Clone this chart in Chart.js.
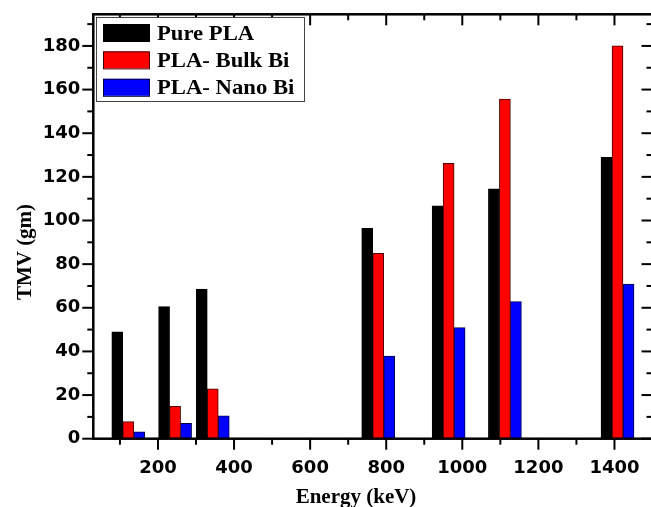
<!DOCTYPE html>
<html>
<head>
<meta charset="utf-8">
<script src="https://cdn.jsdelivr.net/npm/chart.js@4.4.1/dist/chart.umd.min.js"></script>
<style>
	html, body { margin: 0; padding: 0; background: #fff; overflow: hidden; }
	#wrap { width: 656px; height: 507px; }
</style>
</head>
<body>
<div id="wrap"><canvas id="chart" width="656" height="507"></canvas></div>
<script>
// gamma energies (keV) and TMV values (gm)
const energies = [122, 245, 344, 779, 964, 1112, 1408]
const purePLA = [49.0, 60.5, 68.6, 96.4, 106.7, 114.5, 129.0]
const bulkBi = [7.8, 14.8, 22.9, 84.9, 126.2, 155.6, 180.0]
const nanoBi = [3.1, 7.0, 10.5, 37.9, 50.9, 62.8, 70.9]

const seriesNames = ['Pure PLA', 'PLA- Bulk Bi', 'PLA- Nano Bi']
const xTicks = [200, 400, 600, 800, 1000, 1200, 1400]
const yTicks = [0, 20, 40, 60, 80, 100, 120, 140, 160, 180]

const tickFont = { family: 'DejaVu Sans', weight: 'bold', size: 18 }

function points(vals) {
	return energies.map((e, i) => ({ x: e, y: vals[i] }))
}

function minors(major, step, lo, hi) {
	const out = []
	for (let v = major[0] - step / 2; v <= hi; v += step) {
		if (v >= lo) out.push(v)
	}
	return out
}

// frame, ticks on all four sides, legend box and axis titles
const framePlugin = {
	id: 'frame',
	afterDraw(chart) {
		const { ctx, chartArea: a, scales } = chart
		const x = scales.x
		const y = scales.y
		ctx.save()
		ctx.strokeStyle = '#000'
		ctx.lineCap = 'butt'

		ctx.lineWidth = 2
		const xMin = minors(xTicks, 200, x.min, x.max)
		const yMin = minors(yTicks, 20, y.min, y.max)
		const tick = (x1, y1, x2, y2) => {
			ctx.beginPath()
			ctx.moveTo(x1, y1)
			ctx.lineTo(x2, y2)
			ctx.stroke()
		}
		xTicks.forEach((v) => {
			const px = x.getPixelForValue(v)
			tick(px, a.bottom, px, a.bottom + 11)
			tick(px, a.top, px, a.top + 11)
		})
		xMin.forEach((v) => {
			const px = x.getPixelForValue(v)
			tick(px, a.bottom, px, a.bottom + 6)
			tick(px, a.top, px, a.top + 6)
		})
		yTicks.forEach((v) => {
			const py = y.getPixelForValue(v)
			tick(a.left - 11, py, a.left, py)
			tick(a.right - 11, py, a.right, py)
		})
		yMin.forEach((v) => {
			const py = y.getPixelForValue(v)
			tick(a.left - 6, py, a.left, py)
			tick(a.right - 6, py, a.right, py)
		})

		ctx.lineWidth = 2.5
		ctx.strokeRect(a.left, a.top, a.right - a.left, a.bottom - a.top)

		// legend
		const lx = 96, ly = 17, lw = 208, lh = 84
		ctx.fillStyle = '#fff'
		ctx.fillRect(lx, ly, lw, lh)
		ctx.lineWidth = 1
		ctx.strokeStyle = '#444'
		ctx.strokeRect(lx + 0.5, ly + 0.5, lw, lh)
		chart.data.datasets.forEach((ds, i) => {
			const cy = 32.5 + i * 27.4
			ctx.fillStyle = ds.backgroundColor
			ctx.fillRect(103, cy - 8.5, 46, 17)
			ctx.strokeStyle = ds.borderColor
			ctx.strokeRect(103.5, cy - 8, 46, 17)
			ctx.save()
			ctx.fillStyle = '#000'
			ctx.font = 'bold 21px "Liberation Serif"'
			ctx.textBaseline = 'alphabetic'
			ctx.translate(157, cy + 7)
			ctx.scale(1.08, 1)
			ctx.fillText(ds.label, 0, 0)
			ctx.restore()
		})

		// axis titles
		ctx.fillStyle = '#000'
		ctx.font = 'bold 21px "Liberation Serif"'
		ctx.textAlign = 'center'
		ctx.textBaseline = 'alphabetic'
		ctx.fillText('Energy (keV)', 356, 503)

		ctx.save()
		ctx.translate(31, 252)
		ctx.rotate(-Math.PI / 2)
		ctx.font = 'bold 21px "Liberation Serif"'
		ctx.fillText('TMV (gm)', 0, 0)
		ctx.restore()

		ctx.restore()
	},
}

const barStyle = { barThickness: 11, borderWidth: 1, borderSkipped: 'start' }

new Chart(document.getElementById('chart'), {
	type: 'bar',
	data: {
		datasets: [
			{ label: seriesNames[0], data: points(purePLA), backgroundColor: '#000000', borderColor: '#000000', ...barStyle },
			{ label: seriesNames[1], data: points(bulkBi), backgroundColor: '#ff0000', borderColor: '#4a0000', ...barStyle },
			{ label: seriesNames[2], data: points(nanoBi), backgroundColor: '#0000ff', borderColor: '#00004a', ...barStyle },
		],
	},
	options: {
		responsive: false,
		animation: false,
		devicePixelRatio: 1,
		layout: { padding: { left: 0, top: 14.3, right: 3.5, bottom: 0 } },
		plugins: {
			legend: { display: false },
			tooltip: { enabled: false },
		},
		scales: {
			x: {
				type: 'linear',
				min: 30,
				max: 1500,
				offset: false,
				afterBuildTicks: (s) => { s.ticks = xTicks.map((v) => ({ value: v })) },
				afterFit: (s) => { s.height = 68.3 },
				grid: { display: true, offset: false, drawOnChartArea: false, drawTicks: true, tickLength: 11, color: 'rgba(0,0,0,0)' },
				border: { display: false },
				ticks: { font: tickFont, color: '#000', padding: 8, maxRotation: 0, autoSkip: false, callback: (v) => String(v) },
			},
			y: {
				min: 0,
				max: 194.5,
				afterBuildTicks: (s) => { s.ticks = yTicks.map((v) => ({ value: v })) },
				afterFit: (s) => { s.width = 93.3 },
				grid: { display: true, drawOnChartArea: false, drawTicks: true, tickLength: 11, color: 'rgba(0,0,0,0)' },
				border: { display: false },
				ticks: { font: tickFont, color: '#000', padding: 2, autoSkip: false, callback: (v) => String(v) },
			},
		},
	},
	plugins: [framePlugin],
})
</script>
</body>
</html>
